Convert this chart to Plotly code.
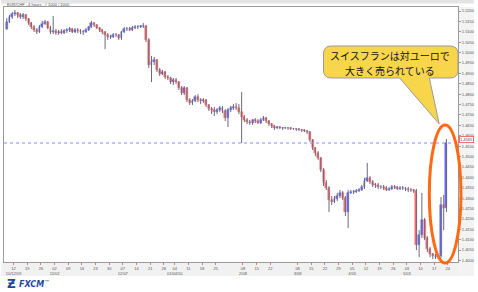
import plotly.graph_objects as go

# ---------------- data (EUR/CHF, daily OHLC) ----------------
DATES = [
    "2009-10-07", "2009-10-08", "2009-10-09",
    "2009-10-12", "2009-10-13", "2009-10-14", "2009-10-15", "2009-10-16",
    "2009-10-19", "2009-10-20", "2009-10-21", "2009-10-22", "2009-10-23",
    "2009-10-26", "2009-10-27", "2009-10-28", "2009-10-29", "2009-10-30",
    "2009-11-02", "2009-11-03", "2009-11-04", "2009-11-05", "2009-11-06",
    "2009-11-09", "2009-11-10", "2009-11-11", "2009-11-12", "2009-11-13",
    "2009-11-16", "2009-11-17", "2009-11-18", "2009-11-19", "2009-11-20",
    "2009-11-23", "2009-11-24", "2009-11-25", "2009-11-26", "2009-11-27",
    "2009-11-30", "2009-12-01", "2009-12-02", "2009-12-03", "2009-12-04",
    "2009-12-07", "2009-12-08", "2009-12-09", "2009-12-10", "2009-12-11",
    "2009-12-14", "2009-12-15", "2009-12-16", "2009-12-17", "2009-12-18",
    "2009-12-21", "2009-12-22", "2009-12-23", "2009-12-24", "2009-12-25",
    "2009-12-28", "2009-12-29", "2009-12-30", "2009-12-31",
    "2010-01-04", "2010-01-05", "2010-01-06", "2010-01-07", "2010-01-08",
    "2010-01-11", "2010-01-12", "2010-01-13", "2010-01-14", "2010-01-15",
    "2010-01-18", "2010-01-19", "2010-01-20", "2010-01-21", "2010-01-22",
    "2010-01-25", "2010-01-26", "2010-01-27", "2010-01-28", "2010-01-29",
    "2010-02-01", "2010-02-02", "2010-02-03", "2010-02-04", "2010-02-05",
    "2010-02-08", "2010-02-09", "2010-02-10", "2010-02-11", "2010-02-12",
    "2010-02-15", "2010-02-16", "2010-02-17", "2010-02-18", "2010-02-19",
    "2010-02-22", "2010-02-23", "2010-02-24", "2010-02-25", "2010-02-26",
    "2010-03-01", "2010-03-02", "2010-03-03", "2010-03-04", "2010-03-05",
    "2010-03-08", "2010-03-09", "2010-03-10", "2010-03-11", "2010-03-12",
    "2010-03-15", "2010-03-16", "2010-03-17", "2010-03-18", "2010-03-19",
    "2010-03-22", "2010-03-23", "2010-03-24", "2010-03-25", "2010-03-26",
    "2010-03-29", "2010-03-30", "2010-03-31", "2010-04-01", "2010-04-02",
    "2010-04-05", "2010-04-06", "2010-04-07", "2010-04-08", "2010-04-09",
    "2010-04-12", "2010-04-13", "2010-04-14", "2010-04-15", "2010-04-16",
    "2010-04-19", "2010-04-20", "2010-04-21", "2010-04-22", "2010-04-23",
    "2010-04-26", "2010-04-27", "2010-04-28", "2010-04-29", "2010-04-30",
    "2010-05-03", "2010-05-04", "2010-05-05", "2010-05-06", "2010-05-07",
    "2010-05-10", "2010-05-11", "2010-05-12", "2010-05-13", "2010-05-14",
    "2010-05-17", "2010-05-18", "2010-05-19", "2010-05-20", "2010-05-21",
]

OPEN = [
    1.5113, 1.5147, 1.5171,
    1.5186, 1.5190, 1.5181, 1.5171, 1.5181,
    1.5162, 1.5142, 1.5123, 1.5109, 1.5099,
    1.5123, 1.5137, 1.5147, 1.5118, 1.5099,
    1.5104, 1.5094, 1.5099, 1.5094, 1.5104,
    1.5109, 1.5113, 1.5099, 1.5109, 1.5104,
    1.5099, 1.5099, 1.5109, 1.5123, 1.5142,
    1.5133, 1.5118, 1.5109, 1.5099, 1.5085,
    1.5075, 1.5075, 1.5085, 1.5085, 1.5070,
    1.5099, 1.5113, 1.5113, 1.5109, 1.5118,
    1.5123, 1.5123, 1.5128, 1.5128, 1.5061,
    1.4940, 1.4955, 1.4965, 1.4916, 1.4897,
    1.4907, 1.4883, 1.4878, 1.4858,
    1.4868, 1.4858, 1.4829, 1.4805, 1.4829,
    1.4772, 1.4757, 1.4767, 1.4786, 1.4772,
    1.4767, 1.4772, 1.4748, 1.4728, 1.4724,
    1.4714, 1.4724, 1.4733, 1.4719, 1.4685,
    1.4724, 1.4733, 1.4738, 1.4733, 1.4714,
    1.4690, 1.4676, 1.4666, 1.4661, 1.4676,
    1.4671, 1.4661, 1.4676, 1.4685, 1.4671,
    1.4656, 1.4647, 1.4637, 1.4642, 1.4637,
    1.4637, 1.4637, 1.4637, 1.4632, 1.4632,
    1.4632, 1.4628, 1.4628, 1.4623, 1.4618,
    1.4580, 1.4541, 1.4517, 1.4493, 1.4435,
    1.4373, 1.4349, 1.4291, 1.4281, 1.4296,
    1.4310, 1.4325, 1.4300, 1.4233, 1.4325,
    1.4329, 1.4329, 1.4334, 1.4339, 1.4353,
    1.4382, 1.4397, 1.4377, 1.4363, 1.4363,
    1.4353, 1.4353, 1.4349, 1.4339, 1.4344,
    1.4353, 1.4353, 1.4344, 1.4349, 1.4349,
    1.4344, 1.4339, 1.4339, 1.4334, 1.4074,
    1.4122, 1.4194, 1.4108, 1.4055, 1.4031,
    1.4021, 1.4016, 1.4021, 1.4267, 1.4252,
]

HIGH = [
    1.5166, 1.5181, 1.5195,
    1.5205, 1.5195, 1.5190, 1.5190, 1.5186,
    1.5166, 1.5147, 1.5133, 1.5118, 1.5133,
    1.5152, 1.5157, 1.5152, 1.5128, 1.5176,
    1.5113, 1.5109, 1.5113, 1.5113, 1.5118,
    1.5123, 1.5118, 1.5118, 1.5118, 1.5113,
    1.5109, 1.5118, 1.5128, 1.5152, 1.5147,
    1.5137, 1.5123, 1.5113, 1.5104, 1.5094,
    1.5085, 1.5094, 1.5094, 1.5089, 1.5104,
    1.5123, 1.5123, 1.5123, 1.5128, 1.5133,
    1.5133, 1.5133, 1.5142, 1.5133, 1.5070,
    1.4984, 1.4979, 1.4969, 1.4926, 1.4916,
    1.4911, 1.4892, 1.4883, 1.4878,
    1.4878, 1.4863, 1.4839, 1.4839, 1.4834,
    1.4781, 1.4776, 1.4796, 1.4800, 1.4781,
    1.4781, 1.4776, 1.4752, 1.4738, 1.4738,
    1.4733, 1.4743, 1.4743, 1.4728, 1.4733,
    1.4743, 1.4752, 1.4757, 1.4752, 1.4810,
    1.4700, 1.4685, 1.4676, 1.4680, 1.4685,
    1.4680, 1.4685, 1.4695, 1.4690, 1.4676,
    1.4661, 1.4652, 1.4647, 1.4647, 1.4642,
    1.4642, 1.4642, 1.4642, 1.4637, 1.4637,
    1.4637, 1.4632, 1.4632, 1.4628, 1.4623,
    1.4584, 1.4546, 1.4526, 1.4497, 1.4445,
    1.4387, 1.4358, 1.4310, 1.4310, 1.4325,
    1.4339, 1.4334, 1.4310, 1.4339, 1.4339,
    1.4339, 1.4344, 1.4349, 1.4363, 1.4397,
    1.4469, 1.4406, 1.4387, 1.4373, 1.4373,
    1.4363, 1.4363, 1.4358, 1.4353, 1.4363,
    1.4363, 1.4358, 1.4358, 1.4358, 1.4353,
    1.4353, 1.4349, 1.4344, 1.4344, 1.4146,
    1.4325, 1.4204, 1.4117, 1.4065, 1.4036,
    1.4031, 1.4031, 1.4305, 1.4315, 1.4584,
]

LOW = [
    1.5109, 1.5142, 1.5162,
    1.5176, 1.5166, 1.5162, 1.5162, 1.5152,
    1.5133, 1.5113, 1.5099, 1.5089, 1.5094,
    1.5118, 1.5133, 1.5113, 1.5089, 1.5089,
    1.5085, 1.5085, 1.5089, 1.5089, 1.5094,
    1.5099, 1.5094, 1.5094, 1.5094, 1.5089,
    1.5085, 1.5094, 1.5104, 1.5118, 1.5123,
    1.5113, 1.5099, 1.5089, 1.5017, 1.5061,
    1.5065, 1.5070, 1.5075, 1.5061, 1.5061,
    1.5094, 1.5104, 1.5104, 1.5104, 1.5113,
    1.5113, 1.5118, 1.5118, 1.5051, 1.4926,
    1.4858, 1.4940, 1.4907, 1.4887, 1.4892,
    1.4873, 1.4868, 1.4849, 1.4844,
    1.4849, 1.4820, 1.4796, 1.4796, 1.4762,
    1.4748, 1.4748, 1.4762, 1.4762, 1.4752,
    1.4757, 1.4738, 1.4719, 1.4704, 1.4695,
    1.4704, 1.4714, 1.4709, 1.4671, 1.4642,
    1.4714, 1.4724, 1.4724, 1.4704, 1.4565,
    1.4666, 1.4656, 1.4652, 1.4652, 1.4661,
    1.4656, 1.4656, 1.4671, 1.4661, 1.4647,
    1.4637, 1.4628, 1.4632, 1.4632, 1.4628,
    1.4632, 1.4628, 1.4628, 1.4628, 1.4623,
    1.4623, 1.4618, 1.4618, 1.4608, 1.4570,
    1.4531, 1.4502, 1.4483, 1.4425, 1.4358,
    1.4339, 1.4233, 1.4267, 1.4276, 1.4286,
    1.4300, 1.4291, 1.4214, 1.4156, 1.4320,
    1.4320, 1.4325, 1.4329, 1.4334, 1.4344,
    1.4377, 1.4368, 1.4353, 1.4349, 1.4344,
    1.4344, 1.4339, 1.4334, 1.4334, 1.4339,
    1.4344, 1.4339, 1.4339, 1.4339, 1.4334,
    1.4329, 1.4329, 1.4325, 1.4050, 1.4016,
    1.4108, 1.4098, 1.4041, 1.4016, 1.4007,
    1.4007, 1.4007, 1.4012, 1.4146, 1.4233,
]

CLOSE = [
    1.5147, 1.5171, 1.5186,
    1.5190, 1.5181, 1.5171, 1.5181, 1.5162,
    1.5142, 1.5123, 1.5109, 1.5099, 1.5123,
    1.5137, 1.5147, 1.5118, 1.5099, 1.5104,
    1.5094, 1.5099, 1.5094, 1.5104, 1.5109,
    1.5113, 1.5099, 1.5109, 1.5104, 1.5099,
    1.5099, 1.5109, 1.5123, 1.5142, 1.5133,
    1.5118, 1.5109, 1.5099, 1.5085, 1.5075,
    1.5075, 1.5085, 1.5085, 1.5070, 1.5099,
    1.5113, 1.5113, 1.5109, 1.5118, 1.5123,
    1.5123, 1.5128, 1.5128, 1.5061, 1.4940,
    1.4955, 1.4965, 1.4916, 1.4897, 1.4907,
    1.4883, 1.4878, 1.4858, 1.4868,
    1.4858, 1.4829, 1.4805, 1.4829, 1.4772,
    1.4757, 1.4767, 1.4786, 1.4772, 1.4767,
    1.4772, 1.4748, 1.4728, 1.4724, 1.4714,
    1.4724, 1.4733, 1.4719, 1.4685, 1.4724,
    1.4733, 1.4738, 1.4733, 1.4714, 1.4690,
    1.4676, 1.4666, 1.4661, 1.4676, 1.4671,
    1.4661, 1.4676, 1.4685, 1.4671, 1.4656,
    1.4647, 1.4637, 1.4642, 1.4637, 1.4637,
    1.4637, 1.4637, 1.4632, 1.4632, 1.4632,
    1.4628, 1.4628, 1.4623, 1.4618, 1.4580,
    1.4541, 1.4517, 1.4493, 1.4435, 1.4373,
    1.4349, 1.4291, 1.4281, 1.4296, 1.4310,
    1.4325, 1.4300, 1.4233, 1.4325, 1.4329,
    1.4329, 1.4334, 1.4339, 1.4353, 1.4382,
    1.4397, 1.4377, 1.4363, 1.4363, 1.4353,
    1.4353, 1.4349, 1.4339, 1.4344, 1.4353,
    1.4353, 1.4344, 1.4349, 1.4349, 1.4344,
    1.4339, 1.4339, 1.4334, 1.4074, 1.4122,
    1.4194, 1.4108, 1.4055, 1.4031, 1.4021,
    1.4016, 1.4021, 1.4267, 1.4252, 1.4565,
]

X_TICK_DATES = [
    "2009-10-12", "2009-10-19", "2009-10-26", "2009-11-02", "2009-11-09",
    "2009-11-16", "2009-11-23", "2009-11-30", "2009-12-07", "2009-12-14",
    "2009-12-21", "2009-12-28", "2010-01-04", "2010-01-11", "2010-01-18",
    "2010-01-25", "2010-02-08", "2010-02-15", "2010-02-22", "2010-03-08",
    "2010-03-15", "2010-03-22", "2010-03-29", "2010-04-05", "2010-04-12",
    "2010-04-19", "2010-04-26", "2010-05-03", "2010-05-10", "2010-05-17",
    "2010-05-24",
]
X_TICK_LABELS = [
    "12<br>10/12/09", "19", "26", "02<br>11/02", "09",
    "16", "23", "30", "07<br>12/07", "14",
    "21", "28", "04<br>01/04/10", "11", "18",
    "25", "08<br>2/08", "15", "22", "08<br>3/08",
    "15", "22", "29", "05<br>4/05", "12",
    "19", "26", "03<br>5/03", "10", "17",
    "24",
]

Y_TICKS = [
    1.4000, 1.4050, 1.4100, 1.4150, 1.4200, 1.4250, 1.4300, 1.4350, 1.4400,
    1.4450, 1.4500, 1.4550, 1.4600, 1.4650, 1.4700, 1.4750, 1.4800, 1.4850,
    1.4900, 1.4950, 1.5000, 1.5050, 1.5100, 1.5150, 1.5200,
]
Y_TICK_LABELS = ["%.4f" % v for v in Y_TICKS]

TITLE = "EUR/CHF , 4 hours , # 1000 / 1000"
CALLOUT_1 = "スイスフランは対ユーロで"
CALLOUT_2 = "大きく売られている"

# ---------------- layout helpers ----------------
W, H = 478, 292
ML, MR, MT, MB = 3, 16, 7, 30
PW, PH = W - ML - MR, H - MT - MB
DAY_MS = 86400000


def px(X):
    return (X - ML) / PW


def py(Y):
    return (H - MB - Y) / PH


X = [d + " 12:00" for d in DATES]

# wicks (high-low) in gray
wx, wy = [], []
for xd, lo, hi in zip(X, LOW, HIGH):
    wx += [xd, xd, None]
    wy += [lo, hi, None]

fig = go.Figure()
fig.add_trace(go.Scatter(x=wx, y=wy, mode="lines",
                         line=dict(color="#6a6a7c", width=1),
                         hoverinfo="skip", showlegend=False))

# bodies (open-close) as bars: blue = up, red = down
for up, fill in ((True, "#6868ff"), (False, "#ff6e6e")):
    bx, bbase, bh = [], [], []
    for xd, o, c in zip(X, OPEN, CLOSE):
        if (c >= o) == up:
            bx.append(xd)
            bbase.append(min(o, c))
            bh.append(abs(c - o))
    fig.add_trace(go.Bar(x=bx, y=bh, base=bbase, width=0.7 * DAY_MS,
                         marker=dict(color=fill, line=dict(color=fill, width=0.5)),
                         hoverinfo="skip", showlegend=False))

last = CLOSE[-1]

shapes = [
    dict(type="rect", xref="paper", yref="paper", x0=px(0), x1=px(W), y0=py(3.5), y1=py(0),
         fillcolor="#e4e4e4", line=dict(width=0), layer="below"),
    dict(type="rect", xref="paper", yref="paper", x0=px(0), x1=px(W), y0=py(276), y1=py(262),
         fillcolor="#f1f1f1", line=dict(width=0), layer="below"),
    dict(type="rect", xref="paper", yref="paper", x0=px(462), x1=px(W), y0=py(276), y1=py(7),
         fillcolor="#f3f3f3", line=dict(width=0), layer="below"),
    dict(type="line", xref="paper", yref="y", x0=0, x1=1, y0=last, y1=last,
         line=dict(color="#8a8aff", width=1, dash="dot")),
]

# speech bubble (pixel geometry -> paper)
r = 8
L, R, T, B = 326, 462, 46, 78
pts = [
    ("M", L + r, T), ("L", R - r, T), ("Q", R, T, R, T + r), ("L", R, B - r),
    ("Q", R, B, R - r, B), ("L", 433, B), ("L", 443, 124), ("L", 403, B),
    ("L", L + r, B), ("Q", L, B, L, B - r), ("L", L, T + r), ("Q", L, T, L + r, T),
]
path = ""
for p in pts:
    coords = p[1:]
    seg = ["%.5f,%.5f" % (px(coords[i]), py(coords[i + 1])) for i in range(0, len(coords), 2)]
    path += p[0] + " ".join(seg) + " "
path += "Z"
shapes.append(dict(type="path", xref="paper", yref="paper", path=path,
                   fillcolor="#f8d64c", line=dict(color="#9a9a9a", width=1)))

shapes.append(dict(type="circle", xref="paper", yref="paper",
                   x0=px(433), x1=px(465), y0=py(263), y1=py(125),
                   line=dict(color="#ff6a12", width=3)))

annotations = [
    dict(x=px(4), y=py(4.8), xref="paper", yref="paper", text=TITLE, showarrow=False,
         xanchor="left", yanchor="middle", font=dict(size=4, color="#555555", family="Arial")),
    dict(x=px(393), y=py(55), xref="paper", yref="paper", text=CALLOUT_1, showarrow=False,
         xanchor="center", yanchor="middle",
         font=dict(size=10, color="#111111", family="Noto Sans CJK JP")),
    dict(x=px(393.5), y=py(70), xref="paper", yref="paper", text=CALLOUT_2, showarrow=False,
         xanchor="center", yanchor="middle",
         font=dict(size=10, color="#111111", family="Noto Sans CJK JP")),
    dict(x=px(463.5), y=last, xref="paper", yref="y", text="%.4f" % last, showarrow=False,
         xanchor="left", yanchor="bottom", bgcolor="#ffffff", bordercolor="#f07070",
         borderwidth=1, borderpad=0, font=dict(size=4, color="#444444", family="Arial")),
    dict(x=px(4), y=py(284), xref="paper", yref="paper", text="<b>Ƶ</b>", showarrow=False,
         xanchor="left", yanchor="middle",
         font=dict(size=12, color="#1f4a9c", family="DejaVu Sans")),
    dict(x=px(16), y=py(283.5), xref="paper", yref="paper",
         text="<b><i>FXCM</i></b><sup>™</sup>", showarrow=False,
         xanchor="left", yanchor="middle",
         font=dict(size=8, color="#1f4a9c", family="DejaVu Sans")),
]

fig.update_layout(
    width=W, height=H,
    margin=dict(l=ML, r=MR, t=MT, b=MB, pad=0),
    paper_bgcolor="#ffffff", plot_bgcolor="#ffffff",
    showlegend=False, barmode="overlay", bargap=0,
    shapes=shapes,
    annotations=annotations,
    xaxis=dict(
        type="date",
        range=["2009-10-06 11:42", "2010-05-27 17:31"],
        rangebreaks=[dict(bounds=["sat", "mon"]), dict(values=["2010-01-01"])],
        tickvals=X_TICK_DATES, ticktext=X_TICK_LABELS, tickangle=0,
        tickfont=dict(size=4, color="#555555", family="Arial"),
        ticks="outside", ticklen=2, tickcolor="#e07a7a", tickwidth=1,
        showgrid=False, zeroline=False,
        showline=True, linecolor="#9a9a9a", linewidth=1, mirror=True,
    ),
    yaxis=dict(
        side="right",
        range=[1.399269, 1.521924],
        tickvals=Y_TICKS, ticktext=Y_TICK_LABELS,
        tickfont=dict(size=4, color="#555555", family="Arial"),
        ticks="outside", ticklen=2, tickcolor="#9a9a9a", tickwidth=1,
        showgrid=False, zeroline=False,
        showline=True, linecolor="#9a9a9a", linewidth=1, mirror=True,
    ),
)

fig.write_html("out.html")
